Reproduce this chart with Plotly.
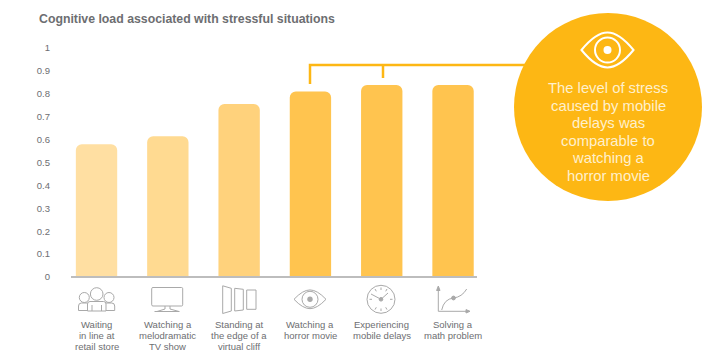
import plotly.graph_objects as go

category_lines = [["Waiting", "in line at", "retail store"], ["Watching a", "melodramatic", "TV show"],
                  ["Standing at", "the edge of a", "virtual cliff"], ["Watching a", "horror movie"],
                  ["Experiencing", "mobile delays"], ["Solving a", "math problem"]]
values = [0.58, 0.615, 0.755, 0.81, 0.838, 0.838]
y_ticks = [0, 0.1, 0.2, 0.3, 0.4, 0.5, 0.6, 0.7, 0.8, 0.9, 1]
y_labels = ["0", "0.1", "0.2", "0.3", "0.4", "0.5", "0.6", "0.7", "0.8", "0.9", "1"]
title = "Cognitive load associated with stressful situations"
callout_lines = ["The level of stress", "caused by mobile", "delays was", "comparable to", "watching a",
                 "horror movie"]
bar_colors = ["#FFDFA2", "#FFDA91", "#FFD27C", "#FFC44F", "#FFC44F", "#FFC44F"]

W, H = 723, 362
FONT = "Liberation Sans"
GREY = "#6D6E71"
ICON = "#A9A9A9"
AMBER = "#FDB714"

fig = go.Figure()
fig.add_bar(x=list(range(6)), y=values, width=0.58, marker=dict(color=bar_colors, line_width=0),
            hoverinfo="skip")
fig.add_scatter(x=[0, W], y=[0, H], xaxis="x2", yaxis="y2", mode="markers",
                marker=dict(opacity=0), hoverinfo="skip", showlegend=False)


def s(kind="path", color=ICON, width=1, fill=None, **kw):
    d = dict(type=kind, xref="x2", yref="y2", line=dict(color=color, width=width), layer="above")
    if fill:
        d["fillcolor"] = fill
    d.update(kw)
    fig.add_shape(**d)


def circle(cx, cy, r, **kw):
    s("circle", x0=cx - r, x1=cx + r, y0=cy - r, y1=cy + r, **kw)


def eye(cx, cy, hw, hh, iris, dot, color, width):
    s(path=f"M{cx-hw},{cy} Q{cx-hw*0.45},{cy-hh*1.25} {cx},{cy-hh*1.25} "
           f"Q{cx+hw*0.45},{cy-hh*1.25} {cx+hw},{cy} Q{cx+hw*0.45},{cy+hh*1.25} {cx},{cy+hh*1.25} "
           f"Q{cx-hw*0.45},{cy+hh*1.25} {cx-hw},{cy} Z", color=color, width=width)
    circle(cx, cy, iris, color=color, width=width)
    circle(cx, cy, dot, color=color, width=0, fill=color)


# callout bubble and connector
s(path="M310,84 L310,65 L530,65", color=AMBER, width=2.5)
s(path="M383,65 L383,78", color=AMBER, width=2.5)
circle(608, 107, 94, color=AMBER, width=0, fill=AMBER)
eye(607.5, 50, 26, 14, 12.5, 4, "#FFFFFF", 2)

# axis base line
s(path="M71,277 L477,277", color="#BDBDBD", width=2)

# people icon
for cx, cy, r, x0, x1, top in [(84.3, 297.5, 5, 78.5, 90, 303), (109, 297.5, 5, 103, 114.7, 303)]:
    circle(cx, cy, r)
    s(path=f"M{x0},310.5 L{x0},{top+3} Q{x0},{top} {x0+3},{top} L{x1-3},{top} Q{x1},{top} {x1},{top+3} L{x1},310.5 Z")
circle(96.7, 294, 6.3, fill="#FFFFFF")
s(path="M87.5,311 L87.5,304 Q87.5,301.5 90,301.5 L103.5,301.5 Q106,301.5 106,304 L106,311 Z", fill="#FFFFFF")
s(path="M92,305 L92,311 M101.5,305 L101.5,311")

# tv icon
s(path="M153,287.5 L181.5,287.5 Q182.7,287.5 182.7,288.7 L182.7,304.8 Q182.7,306 181.5,306 L153,306 "
       "Q151.7,306 151.7,304.8 L151.7,288.7 Q151.7,287.5 153,287.5 Z")
s(path="M165,306 L165,309 L157,311.5 L179,311.5 L170,309 L170,306 M154.5,311.5 L179.5,311.5")

# doors icon
s(path="M222.7,285.8 L231.3,288.3 L231.3,311 L222.7,313.5 Z")
s(path="M234.7,288.3 L243.3,289.3 L243.3,310 L234.7,311 Z")
s(path="M246.7,290 L256,290 L256,309.3 L246.7,309.3 Z")

# watching icon
eye(310, 299.3, 16, 7.5, 8, 2.7, ICON, 1)

# clock icon
circle(381, 299.3, 14)
s(path="M371,294 L381,299.3 L388,293")
s(path="M381,287.5 L381,290 M381,308.5 L381,311 M369.5,299.3 L372,299.3 M390,299.3 L392.5,299.3 "
       "M375,289 L376.3,291.3 M387,289 L385.7,291.3 M375,309.6 L376.3,307.3 M387,309.6 L385.7,307.3")
circle(381, 299.3, 1.8, fill=ICON)

# math icon
s(path="M438.3,288 L438.3,311.3 L467,311.3")
s(path="M436.6,290.5 L438.3,286 L440,290.5 Z M466,309.6 L470,311.3 L466,313 Z", fill=ICON)
s(path="M441.7,310 Q444,299 453.5,298 Q462,297 466.7,289")
circle(453.5, 298, 1.9, fill=ICON)

annotations = [dict(xref="paper", yref="paper", x=37 / W, y=1 - 19 / H, xanchor="left", yanchor="middle",
                    text=f"<b>{title}</b>", showarrow=False, font=dict(size=12.3, color=GREY))]
for i, line in enumerate(callout_lines):
    annotations.append(dict(xref="paper", yref="paper", x=608 / W, y=1 - (88 + i * 17.6) / H,
                            xanchor="center", yanchor="middle", text=line, showarrow=False,
                            font=dict(size=14.8, color="#FFF0CC")))
for idx, lines in enumerate(category_lines):
    for j, line in enumerate(lines):
        annotations.append(dict(xref="x", yref="paper", x=idx, y=1 - (324.5 + j * 11.2) / H,
                                xanchor="center", yanchor="middle", text=line, showarrow=False,
                                font=dict(size=9.5, color=GREY)))

fig.update_layout(
    width=W, height=H, margin=dict(l=0, r=0, t=0, b=0, pad=0), autosize=False,
    paper_bgcolor="#FFFFFF", plot_bgcolor="rgba(0,0,0,0)", showlegend=False,
    font=dict(family=FONT, color=GREY, size=10),
    xaxis=dict(domain=[71 / W, 477 / W], range=[-0.358, 5.336], automargin=False, showticklabels=False,
               ticks="", showgrid=False, zeroline=False, showline=False),
    yaxis=dict(domain=[1 - 277 / H, 1 - 48 / H], range=[0, 1], tickmode="array", automargin=False,
               tickvals=y_ticks, ticktext=y_labels, ticks="", showgrid=False, zeroline=False,
               showline=False, ticklabelstandoff=20, tickfont=dict(size=9.5, color=GREY)),
    xaxis2=dict(domain=[0, 1], range=[0, W], visible=False, anchor="y2", fixedrange=True, automargin=False),
    yaxis2=dict(domain=[0, 1], range=[H, 0], visible=False, anchor="x2", fixedrange=True, automargin=False),
    barcornerradius=6,
    annotations=annotations,
)

fig.write_html("out.html", config=dict(displayModeBar=False),
               post_script="document.body.style.margin='0';document.body.style.overflow='hidden';")
